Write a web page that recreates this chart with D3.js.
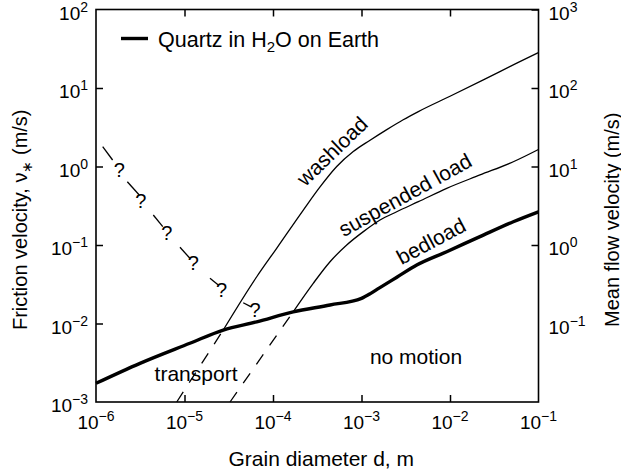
<!DOCTYPE html>
<html>
<head>
<meta charset="utf-8">
<script src="https://cdn.jsdelivr.net/npm/d3@7"></script>
<style>
body { margin: 0; background: #fff; }
svg { font-family: "Liberation Sans", Arial, Helvetica, sans-serif; }
</style>
</head>
<body>
<div id="chart"></div>
<script>
// grain diameter (m) vs friction velocity (m/s)
var bedload = [
  [1.0e-6, 1.73e-3], [3.14e-6, 3.11e-3], [1.15e-5, 5.60e-3], [2.74e-5, 8.26e-3],
  [6.55e-5, 1.05e-2], [1.69e-4, 1.41e-2], [4.41e-4, 1.72e-2], [1.0e-3, 2.09e-2],
  [1.26e-3, 2.40e-2], [1.58e-3, 2.82e-2], [2.51e-3, 3.89e-2], [4.21e-3, 5.56e-2],
  [9.18e-3, 8.22e-2], [2.18e-2, 0.128], [5.19e-2, 0.198], [0.1, 0.265]
];
var washload = [
  [2.74e-5, 8.26e-3], [6.55e-5, 3.94e-2], [1.10e-4, 9.08e-2], [2.20e-4, 0.279],
  [3.40e-4, 0.550], [5.25e-4, 1.0], [8.07e-4, 1.55], [1.25e-3, 2.16],
  [1.93e-3, 2.95], [2.96e-3, 3.94], [4.39e-3, 5.01], [1.0e-2, 7.85],
  [2.38e-2, 12.7], [5.68e-2, 20.7], [0.1, 28.3]
];
var washloadDashed = [[8.17e-6, 1.0e-3], [2.74e-5, 8.26e-3]];
var suspended = [
  [1.69e-4, 1.41e-2], [2.85e-4, 3.25e-2], [4.41e-4, 6.12e-2], [6.81e-4, 0.100],
  [1.05e-3, 0.148], [1.62e-3, 0.208], [2.50e-3, 0.265], [4.39e-3, 0.356],
  [9.18e-3, 0.527], [2.18e-2, 0.780], [5.19e-2, 1.15], [0.1, 1.65]
];
var suspendedDashed = [[3.27e-5, 1.0e-3], [1.69e-4, 1.41e-2]];

// uncertain upper limit: dash pieces and "?" marks
var queryDashes = [
  [[1.19e-6, 1.79], [1.54e-6, 1.21]],
  [[2.26e-6, 0.64], [3.08e-6, 0.434]],
  [[4.44e-6, 0.241], [5.68e-6, 0.171]],
  [[8.89e-6, 0.0935], [1.15e-5, 0.0678]],
  [[1.94e-5, 0.0377], [2.41e-5, 0.0309]],
  [[4.61e-5, 0.0184], [5.74e-5, 0.0162]]
];
var queryMarks = [
  [1.83e-6, 0.90], [3.20e-6, 0.366], [6.30e-6, 0.141],
  [1.26e-5, 0.0585], [2.63e-5, 0.0267], [6.27e-5, 0.0149]
];

var regionLabels = [
  {text: "washload", d: 4.65e-4, v: 1.57, angle: -44},
  {text: "suspended load", d: 3.10e-3, v: 0.434, angle: -29},
  {text: "bedload", d: 6.1e-3, v: 0.112, angle: -28},
  {text: "transport", d: 1.35e-5, v: 1.87e-3, angle: 0},
  {text: "no motion", d: 4.13e-3, v: 3.05e-3, angle: 0}
];

var xExps = [-6, -5, -4, -3, -2, -1];
var yExps = [-3, -2, -1, 0, 1, 2];
var yRightExps = [-1, 0, 1, 2, 3];

var margin = {top: 9.5, right: 82.5, bottom: 73, left: 96};
var containerWidth = 621, containerHeight = 475;
var chartWidth = containerWidth - margin.left - margin.right;
var chartHeight = containerHeight - margin.top - margin.bottom;

var svg = d3.select("#chart").append("svg")
    .attr("width", containerWidth)
    .attr("height", containerHeight)
  .append("g")
    .attr("transform", `translate(${margin.left}, ${margin.top})`);

var xScale = d3.scaleLog().domain([1e-6, 1e-1]).range([0, chartWidth]);
var yScale = d3.scaleLog().domain([1e-3, 1e2]).range([chartHeight, 0]);
var yRight = d3.scaleLog().domain([1e-2, 1e3]).range([chartHeight, 0]);

var inner = v => v.filter((e, i) => i > 0 && i < v.length - 1).map(e => Math.pow(10, e));

// inward ticks on all four sides
svg.append("g").attr("transform", `translate(0,${chartHeight})`)
  .call(d3.axisBottom(xScale).tickValues(inner(xExps)).tickSizeInner(-7).tickSizeOuter(0).tickFormat(""));
svg.append("g")
  .call(d3.axisTop(xScale).tickValues(inner(xExps)).tickSizeInner(-7).tickSizeOuter(0).tickFormat(""));
svg.append("g")
  .call(d3.axisLeft(yScale).tickValues(inner(yExps)).tickSizeInner(-7).tickSizeOuter(0).tickFormat(""));
svg.append("g").attr("transform", `translate(${chartWidth},0)`)
  .call(d3.axisRight(yRight).tickValues(inner(yRightExps.concat([4]))).tickSizeInner(-7).tickSizeOuter(0).tickFormat(""));
svg.selectAll(".domain").remove();
svg.selectAll(".tick line").attr("stroke", "#000").attr("stroke-width", 1.5);

svg.append("rect")
  .attr("width", chartWidth).attr("height", chartHeight)
  .attr("fill", "none").attr("stroke", "#000").attr("stroke-width", 1.6);

function powLabel(sel) {
  sel.append("tspan").text("10");
  sel.append("tspan").attr("dy", -8).attr("font-size", 14)
    .text(e => e < 0 ? "\u2212" + (-e) : e);
}

svg.append("g").selectAll("text").data(xExps).join("text")
  .attr("x", e => xScale(Math.pow(10, e)))
  .attr("y", chartHeight + 27)
  .attr("text-anchor", "middle").attr("font-size", 19)
  .call(powLabel);

svg.append("g").selectAll("text").data(yExps).join("text")
  .attr("x", -8)
  .attr("y", e => yScale(Math.pow(10, e)) + 10)
  .attr("text-anchor", "end").attr("font-size", 19)
  .call(powLabel);

svg.append("g").selectAll("text").data(yRightExps).join("text")
  .attr("x", chartWidth + 10)
  .attr("y", e => yRight(Math.pow(10, e)) + 10)
  .attr("text-anchor", "start").attr("font-size", 19)
  .call(powLabel);

// axis titles
svg.append("text")
  .attr("x", chartWidth / 2 + 4).attr("y", chartHeight + 64)
  .attr("text-anchor", "middle").attr("font-size", 21)
  .text("Grain diameter d, m");

var leftTitle = svg.append("text")
  .attr("transform", `translate(${-margin.left + 27}, ${chartHeight / 2 + 14}) rotate(-90)`)
  .attr("text-anchor", "middle").attr("font-size", 20);
leftTitle.append("tspan").text("Friction velocity, \u03bd");
leftTitle.append("tspan").attr("dy", 5).attr("font-size", 14).text("\u2217");
leftTitle.append("tspan").attr("dy", -5).text(" (m/s)");

svg.append("text")
  .attr("transform", `translate(${chartWidth + 80}, ${chartHeight / 2 + 14}) rotate(-90)`)
  .attr("text-anchor", "middle").attr("font-size", 20)
  .text("Mean flow velocity (m/s)");

var line = d3.line()
  .x(d => xScale(d[0]))
  .y(d => yScale(d[1]))
  .curve(d3.curveMonotoneX);

svg.append("path").datum(washload).attr("d", line)
  .attr("fill", "none").attr("stroke", "#000").attr("stroke-width", 1.3);
svg.append("path").datum(suspended).attr("d", line)
  .attr("fill", "none").attr("stroke", "#000").attr("stroke-width", 1.3);
svg.selectAll(".dashed").data([washloadDashed, suspendedDashed]).join("path")
  .attr("class", "dashed")
  .attr("d", d3.line().x(d => xScale(d[0])).y(d => yScale(d[1])))
  .attr("fill", "none").attr("stroke", "#000").attr("stroke-width", 1.3)
  .attr("stroke-dasharray", "12,11");
svg.append("path").datum(bedload).attr("d", line)
  .attr("fill", "none").attr("stroke", "#000").attr("stroke-width", 3.4)
  .attr("stroke-linejoin", "round");

// question-mark line
svg.selectAll(".qdash").data(queryDashes).join("line")
  .attr("class", "qdash")
  .attr("x1", d => xScale(d[0][0])).attr("y1", d => yScale(d[0][1]))
  .attr("x2", d => xScale(d[1][0])).attr("y2", d => yScale(d[1][1]))
  .attr("stroke", "#000").attr("stroke-width", 1.3);
svg.selectAll(".qmark").data(queryMarks).join("text")
  .attr("class", "qmark")
  .attr("x", d => xScale(d[0])).attr("y", d => yScale(d[1]))
  .attr("dy", "0.36em").attr("text-anchor", "middle").attr("font-size", 20)
  .text("?");

// region labels
svg.selectAll(".region").data(regionLabels).join("text")
  .attr("class", "region")
  .attr("transform", d => `translate(${xScale(d.d)}, ${yScale(d.v)}) rotate(${d.angle})`)
  .attr("dy", d => d.angle ? "0.35em" : 0)
  .attr("text-anchor", "middle").attr("font-size", 21)
  .text(d => d.text);

// legend
var legend = svg.append("g").attr("transform", "translate(25, 29)");
legend.append("line").attr("x1", 0).attr("x2", 27)
  .attr("stroke", "#000").attr("stroke-width", 3.4);
var legendText = legend.append("text").attr("x", 37).attr("y", 8.5).attr("font-size", 21.5);
legendText.append("tspan").text("Quartz in H");
legendText.append("tspan").attr("dy", 5).attr("font-size", 15).text("2");
legendText.append("tspan").attr("dy", -5).text("O on Earth");
</script>
</body>
</html>
